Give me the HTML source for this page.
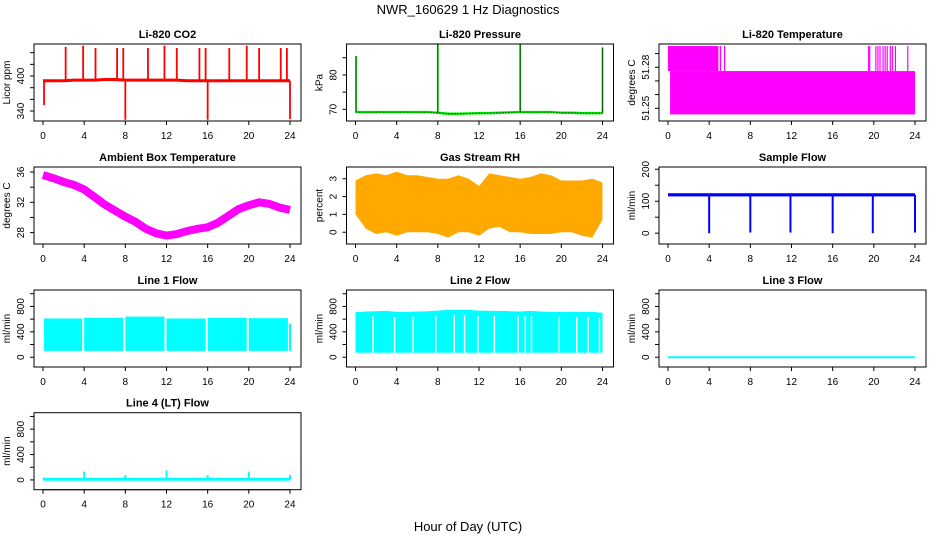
<!DOCTYPE html>
<html><head><meta charset="utf-8"><style>
html,body{margin:0;padding:0;background:#fff;}
svg{display:block;font-family:"Liberation Sans",sans-serif;}
</style></head><body>
<svg id="c" width="936" height="540" xmlns="http://www.w3.org/2000/svg">
<text x="468" y="14" text-anchor="middle" font-size="13">NWR_160629  1 Hz Diagnostics</text>
<text x="468" y="531" text-anchor="middle" font-size="13">Hour of Day (UTC)</text>
</svg>
<script>
// ---- data ----
const xTicks=[0,4,8,12,16,20,24];
const co2Base=[392,392,392,393,393,393,394,394,393,393,393,393,393,393,392,392,392,392,392,392,392,392,392,392,392];
const co2Spikes=[[0.1,350],[2.2,450],[3.9,452],[5.1,448],[7.2,448],[7.8,448],[8.0,325],[10.2,448],[11.8,452],[13.0,448],[15.2,448],[15.8,448],[16.0,325],[18.1,448],[19.8,452],[21.0,448],[23.1,448],[23.7,448],[24.0,326]];
const presBase=[69.2,69.2,69.2,69.2,69.2,69.2,69.2,69.2,69.0,68.7,68.7,68.8,68.9,68.9,69.0,69.1,69.2,69.2,69.2,69.2,69.0,69.0,68.9,68.9,68.9];
const presSpikes=[[0.05,85.5],[8.0,89],[16.0,89],[24.0,88]];
const tempUpper=[[0,4.9,51.2955,51.2772]];
const tempLower=[[0.2,24,51.2772,51.2455]];
const tempLines=[5.1,5.5,19.5,19.6,20.2,20.4,20.6,20.9,21.1,21.3,21.6,21.8,22.1,23.3];
const ambMean=[35.6,35.2,34.7,34.3,33.7,32.7,31.7,30.9,30.1,29.4,28.5,27.9,27.6,27.8,28.2,28.5,28.7,29.3,30.2,31.1,31.6,32.0,31.8,31.3,31.0];
const rhMax=[2.9,3.2,3.3,3.2,3.4,3.2,3.2,3.1,3.0,3.0,3.2,3.0,2.6,3.3,3.2,3.1,3.0,3.1,3.3,3.2,2.9,2.9,2.9,3.0,2.8];
const rhMin=[1.0,0.2,-0.1,0.0,-0.2,0.0,0.0,0.0,-0.1,-0.3,0.0,0.0,-0.2,0.2,0.3,0.0,0.0,-0.1,-0.1,-0.1,0.0,0.0,-0.2,-0.3,0.7];
const sampleBase=120;
const sampleDrops=[[4,0],[8,2],[11.9,2],[16,0],[19.9,0],[24,2]];
const line1Segs=[[0.1,3.8,610],[4.0,7.8,620],[8.0,11.8,640],[12.0,15.8,610],[16.0,19.8,620],[20.0,23.8,615],[23.9,24.1,530]];
const line1Min=100;
const line2Top=[710,720,725,730,715,715,720,725,735,745,745,745,735,730,730,725,720,730,720,715,715,715,715,715,700];
const line2Min=70;
const line2Gaps=[1.7,3.8,5.6,7.8,9.6,10.6,11.9,13.5,15.8,16.5,17.1,19.8,21.5,22.6,23.7];
const line3Value=0;
const line4Base=10;
const line4Spikes=[[4,130],[8,75],[12,150],[16,75],[20,130],[24,80]];

// ---- layout ----
const svg=document.getElementById('c');
const NS='http://www.w3.org/2000/svg';
const colL=[34,346.5,659], rowT=[44,167,290,412.7], BW=267, BH=77, XMIN=-0.875, XMAX=25.07;
function el(t,a,p){const e=document.createElementNS(NS,t);for(const k in a)e.setAttribute(k,a[k]);(p||svg).appendChild(e);return e;}
function panel(col,row,title,ylab,ymin,ymax,ticks,labels,name){
  const g=el('g',{});
  
  
  const L=colL[col],T=rowT[row];
  const X=v=>L+(v-XMIN)/(XMAX-XMIN)*BW;
  const Y=v=>T+BH-(v-ymin)/(ymax-ymin)*BH;
  const t=el('text',{x:L+BW/2,y:T-6,'text-anchor':'middle','font-size':11,'font-weight':'bold'},g);t.textContent=title;
  
  
  const yl=el('text',{x:0,y:0,'text-anchor':'middle','font-size':10,transform:`translate(${L-24},${T+BH/2}) rotate(-90)`},g);yl.textContent=ylab;
  
  
  const plot=el('g',{},g);
  
  
  const bx=el('rect',{x:L,y:T,width:BW,height:BH,fill:'none',stroke:'#000','stroke-width':1},g);
  
  
  ticks.forEach(v=>{el('line',{x1:L-4,x2:L,y1:Y(v),y2:Y(v),stroke:'#000'},g);});
  el('line',{x1:L,x2:L,y1:Y(ticks[0]),y2:Y(ticks[ticks.length-1]),stroke:'#000'},g);
  labels.forEach(v=>{const s=el('text',{x:0,y:0,'text-anchor':'middle','font-size':10,transform:`translate(${L-10},${Y(v)}) rotate(-90)`},g);s.textContent=String(v);
    
    });
  xTicks.forEach(v=>{el('line',{x1:X(v),x2:X(v),y1:T+BH,y2:T+BH+4,stroke:'#000'},g);
    const s=el('text',{x:X(v),y:T+BH+18,'text-anchor':'middle','font-size':10},g);s.textContent=v;
    
    });
  el('line',{x1:X(0),x2:X(24),y1:T+BH,y2:T+BH,stroke:'#000'},g);
  return {X,Y,g:plot};
}
function vline(p,x,y1,y2,c,w){el('line',{x1:p.X(x),x2:p.X(x),y1:p.Y(y1),y2:p.Y(y2),stroke:c,'stroke-width':w||1.5},p.g);}
function polyl(p,xs,ys,c,w,dash){el('polyline',{points:xs.map((x,i)=>p.X(x)+','+p.Y(ys[i])).join(' '),fill:'none',stroke:c,'stroke-width':w,'stroke-dasharray':dash||''},p.g);}
const hrs=co2Base.map((_,i)=>i);

let p=panel(0,0,'Li-820 CO2','Licor ppm',322.9,454.9,[340,360,380,400,420,440],[340,400],'co2');
polyl(p,hrs,co2Base,'#ff0000',3);
co2Spikes.forEach(s=>vline(p,s[0],co2Base[Math.round(s[0])],s[1],'#ff0000',1.8));
p=panel(1,0,'Li-820 Pressure','kPa',66.6,89.0,[70,75,80,85],[70,80],'pressure');
polyl(p,hrs,presBase,'#00ee00',2.5);
polyl(p,hrs,presBase,'#000',1,'1,2');
presSpikes.forEach(s=>{vline(p,s[0],presBase[Math.round(s[0])],s[1],'#00ee00',1.8);vline(p,s[0],presBase[Math.round(s[0])],s[1],'#000',0.6);});
p=panel(2,0,'Li-820 Temperature','degrees C',51.2407,51.297,[51.25,51.26,51.27,51.28,51.29],[51.25,51.28],'li820-temp');
tempUpper.concat(tempLower).forEach(s=>el('rect',{x:p.X(s[0]),y:p.Y(s[2]),width:p.X(s[1])-p.X(s[0]),height:p.Y(s[3])-p.Y(s[2]),fill:'#ff00ff'},p.g));
tempLines.forEach(h=>vline(p,h,tempUpper[0][2],tempUpper[0][3],'#ff00ff',1.2));
p=panel(0,1,'Ambient Box Temperature','degrees C',26.49,36.67,[28,30,32,34,36],[28,32,36],'ambient');
polyl(p,hrs,ambMean,'#ff00ff',8);
p=panel(1,1,'Gas Stream RH','percent',-0.66,3.66,[0,1,2,3],[0,1,2,3],'rh');
el('polygon',{points:hrs.map(h=>p.X(h)+','+p.Y(rhMax[h])).concat(hrs.slice().reverse().map(h=>p.X(h)+','+p.Y(rhMin[h]))).join(' '),fill:'#ffa800'},p.g);
p=panel(2,1,'Sample Flow','ml/min',-33.8,207,[0,50,100,150,200],[0,100,200],'sample-flow');
el('rect',{x:p.X(0),y:p.Y(sampleBase+5),width:p.X(24)-p.X(0),height:p.Y(sampleBase-5)-p.Y(sampleBase+5),fill:'#0000ff'},p.g);
sampleDrops.forEach(s=>vline(p,s[0],sampleBase,s[1],'#0000ff',2));
const fT=[0,200,400,600,800,1000], fL=[0,400,800];
p=panel(0,2,'Line 1 Flow','ml/min',-154,1059,fT,fL,'line1-flow');
line1Segs.forEach(s=>el('rect',{x:p.X(s[0]),y:p.Y(s[2]),width:p.X(s[1])-p.X(s[0]),height:p.Y(line1Min)-p.Y(s[2]),fill:'#00ffff'},p.g));
p=panel(1,2,'Line 2 Flow','ml/min',-154,1059,fT,fL,'line2-flow');
el('polygon',{points:hrs.map(h=>p.X(h)+','+p.Y(line2Top[h])).concat([p.X(24)+','+p.Y(line2Min),p.X(0)+','+p.Y(line2Min)]).join(' '),fill:'#00ffff'},p.g);
line2Gaps.forEach(h=>vline(p,h,line2Min,line2Top[Math.round(h)]-80,'#fff',1.5));
p=panel(2,2,'Line 3 Flow','ml/min',-154,1059,fT,fL,'line3-flow');
polyl(p,[0,24],[line3Value,line3Value],'#00ffff',2);
p=panel(0,3,'Line 4 (LT) Flow','ml/min',-154,1059,fT,fL,'line4-flow');
polyl(p,[0,24],[line4Base,line4Base],'#00ffff',3);
line4Spikes.forEach(s=>vline(p,s[0],line4Base,s[1],'#00ffff',2));
</script>
</body></html>
